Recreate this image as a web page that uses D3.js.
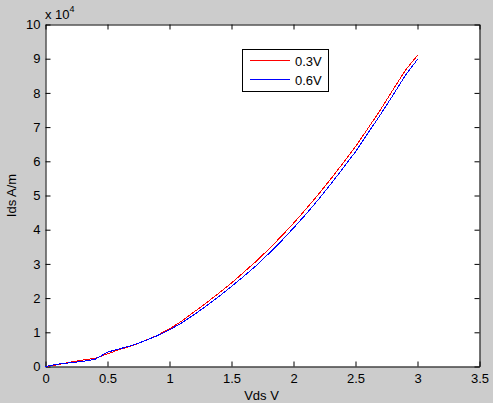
<!DOCTYPE html>
<html>
<head>
<meta charset="utf-8">
<script src="https://cdn.jsdelivr.net/npm/d3@7"></script>
<style>
  html, body { margin: 0; padding: 0; background: #cccccc; }
  svg { display: block; font-family: "Liberation Sans", Arial, sans-serif; }
</style>
</head>
<body>
<script>
// ---- data ----
const vds = [0,0.1,0.2,0.3,0.4,0.5,0.6,0.7,0.8,0.9,1.0,1.1,1.2,1.3,1.4,1.5,1.6,1.7,1.8,1.9,2.0,2.1,2.2,2.3,2.4,2.5,2.6,2.7,2.8,2.9,3.0];
const ids03 = [0,0.05,0.13,0.19,0.24,0.37,0.50,0.61,0.75,0.91,1.10,1.33,1.60,1.87,2.15,2.44,2.76,3.08,3.43,3.80,4.19,4.60,5.03,5.48,5.95,6.43,6.96,7.50,8.08,8.65,9.10];
const ids06 = [0,0.07,0.11,0.15,0.21,0.42,0.52,0.62,0.75,0.90,1.07,1.28,1.52,1.78,2.05,2.34,2.64,2.95,3.30,3.66,4.05,4.45,4.88,5.33,5.80,6.28,6.82,7.36,7.92,8.50,8.98];
const seriesNames = ["0.3V", "0.6V"];
const seriesColors = ["#ff0000", "#0000ff"];
const xTicks = [0,0.5,1,1.5,2,2.5,3,3.5];
const yTicks = [0,1,2,3,4,5,6,7,8,9,10];
const xLabel = "Vds V";
const yLabel = "Ids A/m";

const W = 493, H = 403;
const L = 45.5, R = 479.5, T = 24.5, B = 366.5;

const svg = d3.select("body").append("svg").attr("width", W).attr("height", H);
svg.append("rect").attr("width", W).attr("height", H).attr("fill", "#cccccc");

const x = d3.scaleLinear().domain([0, 3.5]).range([L, R]);
const y = d3.scaleLinear().domain([0, 10]).range([B, T]);

svg.append("rect").attr("x", L).attr("y", T).attr("width", R - L).attr("height", B - T)
  .attr("fill", "#ffffff");

const fmt = d => String(d);

function styleAxis(g) {
  g.selectAll("path.domain").attr("stroke", "#000");
  g.selectAll(".tick line").attr("stroke", "#000");
  g.selectAll(".tick text").attr("fill", "#000").attr("font-size", "13px")
    .attr("font-family", "'Liberation Sans', Arial, sans-serif");
}

svg.append("g").attr("transform", `translate(0,${B})`)
  .call(d3.axisBottom(x).tickValues(xTicks).tickFormat(fmt).tickSizeInner(-5).tickSizeOuter(0).tickPadding(7))
  .call(styleAxis);
svg.append("g").attr("transform", `translate(0,${T})`)
  .call(d3.axisTop(x).tickValues(xTicks).tickFormat("").tickSizeInner(-5).tickSizeOuter(0))
  .call(styleAxis);
svg.append("g").attr("transform", `translate(${L},0)`)
  .call(d3.axisLeft(y).tickValues(yTicks).tickFormat(fmt).tickSizeInner(-5).tickSizeOuter(0).tickPadding(5))
  .call(styleAxis);
svg.append("g").attr("transform", `translate(${R},0)`)
  .call(d3.axisRight(y).tickValues(yTicks).tickFormat("").tickSizeInner(-5).tickSizeOuter(0))
  .call(styleAxis);

// series
const line = d3.line().x(d => x(d[0])).y(d => y(d[1]));
[ids03, ids06].forEach((vals, i) => {
  svg.append("path")
    .datum(vds.map((v, j) => [v, vals[j]]))
    .attr("d", line)
    .attr("fill", "none")
    .attr("stroke", seriesColors[i])
    .attr("stroke-width", 1)
    .attr("shape-rendering", "crispEdges");
});

// exponent label
const ex = svg.append("text").attr("x", 45).attr("y", 18.5).attr("font-size", "13px").attr("fill", "#000");
ex.append("tspan").text("x 10");
ex.append("tspan").attr("dy", -7).attr("font-size", "9px").text("4");

// axis labels
svg.append("text").attr("x", (L + R) / 2 - 1).attr("y", 399.5).attr("text-anchor", "middle")
  .attr("font-size", "13px").attr("fill", "#000").text(xLabel);
svg.append("text").attr("transform", `translate(16,${(T + B) / 2}) rotate(-90)`)
  .attr("text-anchor", "middle").attr("font-size", "13px").attr("fill", "#000").text(yLabel);

// legend
const lg = svg.append("g");
lg.append("rect").attr("x", 242.5).attr("y", 49.5).attr("width", 86).attr("height", 42)
  .attr("fill", "#fff").attr("stroke", "#000");
seriesNames.forEach((name, i) => {
  const yy = 60.5 + i * 19;
  lg.append("line").attr("x1", 250).attr("x2", 290).attr("y1", yy).attr("y2", yy)
    .attr("stroke", seriesColors[i]).attr("shape-rendering", "crispEdges");
  lg.append("text").attr("x", 295).attr("y", yy + 5).attr("font-size", "13px").attr("fill", "#000").text(name);
});
</script>
</body>
</html>
